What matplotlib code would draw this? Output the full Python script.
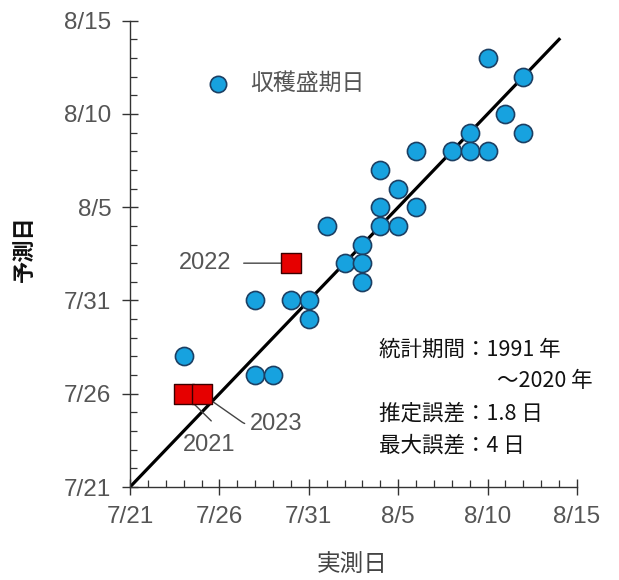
import matplotlib
matplotlib.use("Agg")
import matplotlib.pyplot as plt
from matplotlib.ticker import MultipleLocator
import numpy as np

plt.rcParams['font.family'] = ['Noto Sans CJK JP', 'DejaVu Sans']

# 1991-2020: (actual, predicted) peak harvest dates
actual = ["8/10", "8/12", "8/11", "8/12", "8/9", "8/8", "8/9", "8/10", "8/6",
          "8/4", "8/5", "8/4", "8/6", "8/4", "8/5", "8/1", "8/3", "8/2", "8/3",
          "8/3", "7/31", "7/28", "7/30", "7/31", "7/24", "7/28", "7/29"]
predicted = ["8/13", "8/12", "8/10", "8/9", "8/9", "8/8", "8/8", "8/8", "8/8",
             "8/7", "8/6", "8/5", "8/5", "8/4", "8/4", "8/4", "8/3", "8/2", "8/2",
             "8/1", "7/31", "7/31", "7/31", "7/30", "7/28", "7/27", "7/27"]

recent_years = ["2021", "2022", "2023"]
recent_actual = ["7/24", "7/30", "7/25"]
recent_pred = ["7/26", "8/2", "7/26"]

tick_dates = ["7/21", "7/26", "7/31", "8/5", "8/10", "8/15"]
line_end = "8/14"

stats = ["統計期間：1991 年", "～2020 年", "推定誤差：1.8 日", "最大誤差：4 日"]


def day(s):
    # days since 7/21
    m, d = map(int, s.split("/"))
    return (m - 7) * 31 + d - 21


ax_x = np.array([day(s) for s in actual])
ax_y = np.array([day(s) for s in predicted])
rx = [day(s) for s in recent_actual]
ry = [day(s) for s in recent_pred]

fig = plt.figure(figsize=(6.19, 5.80), dpi=100)
ax = fig.add_axes([130 / 619, 1 - 487 / 580, 447 / 619, 466.3 / 580])

# 1:1 line
ax.plot([0, day(line_end)], [0, day(line_end)], color='black', lw=2.3, zorder=2)

ax.scatter(ax_x, ax_y, s=170, c='#17a2df', edgecolors='#1c3f63', linewidths=1.2,
           zorder=3, label='収穫盛期日')
ax.scatter(rx, ry, s=190, marker='s', c='#e60000', edgecolors='#3a0000',
           linewidths=1.0, zorder=4)

# year labels for recent points
ann = dict(color='#555555', fontsize=17, family=['Liberation Sans'])
lp = dict(arrowstyle='-', color='#444444', lw=1.0)
ax.annotate(recent_years[1], xy=(rx[1], ry[1]), xytext=(-43, 0),
            textcoords='offset points', ha='right', va='center',
            arrowprops=dict(lp, shrinkA=7, shrinkB=4), **ann)
ax.annotate(recent_years[0], xy=(rx[0], ry[0]), xytext=(18, -37),
            textcoords='offset points', ha='center', va='center',
            arrowprops=dict(lp, shrinkA=0, shrinkB=0, relpos=(0.55, 1.6)), **ann)
ax.annotate(recent_years[2], xy=(rx[2], ry[2]), xytext=(35, -22),
            textcoords='offset points', ha='left', va='center',
            arrowprops=dict(lp, shrinkA=2, shrinkB=0, relpos=(0, 0.5),
                            connectionstyle='angle,angleA=0,angleB=-35,rad=4'), **ann)

ticks = [day(s) for s in tick_dates]
ax.set_xlim(0, 25)
ax.set_ylim(0, 25)
ax.set_xticks(ticks)
ax.set_xticklabels(tick_dates)
ax.set_yticks(ticks)
ax.set_yticklabels(tick_dates)
ax.xaxis.set_minor_locator(MultipleLocator(1))
ax.yaxis.set_minor_locator(MultipleLocator(1))

for side in ['top', 'right']:
    ax.spines[side].set_visible(False)
for side in ['left', 'bottom']:
    ax.spines[side].set_color('#333333')
    ax.spines[side].set_linewidth(1.0)

ax.tick_params(which='major', direction='inout', length=11, width=1.0,
               color='#333333', labelcolor='#555555', labelsize=17.5, pad=8)
ax.tick_params(which='minor', direction='in', length=5, width=0.9, color='#333333')
for lab in ax.get_xticklabels() + ax.get_yticklabels():
    lab.set_family(['Liberation Sans'])

leg = ax.legend(loc='center left', bbox_to_anchor=(0.1506, 0.866), frameon=False,
                handletextpad=0.9, fontsize=16.5, labelcolor='#555555',
                borderaxespad=0, handlelength=1.0, markerscale=0.9)

fig.text(24 / 619, 1 - 249 / 580, '予測日', rotation=90, ha='center', va='center',
         fontsize=16, fontweight='bold', color='#111111')
fig.text(352 / 619, 1 - 565 / 580, '実測日', ha='center', va='center',
         fontsize=17, color='#444444')

# statistics box
ys = [350, 381, 413, 445]
xs = [379, 497, 379, 379]
for t, x, y in zip(stats, xs, ys):
    fig.text(x / 619, 1 - y / 580, t, ha='left', va='center', fontsize=15.5,
             color='#111111')

fig.savefig('out.png', dpi=100)
